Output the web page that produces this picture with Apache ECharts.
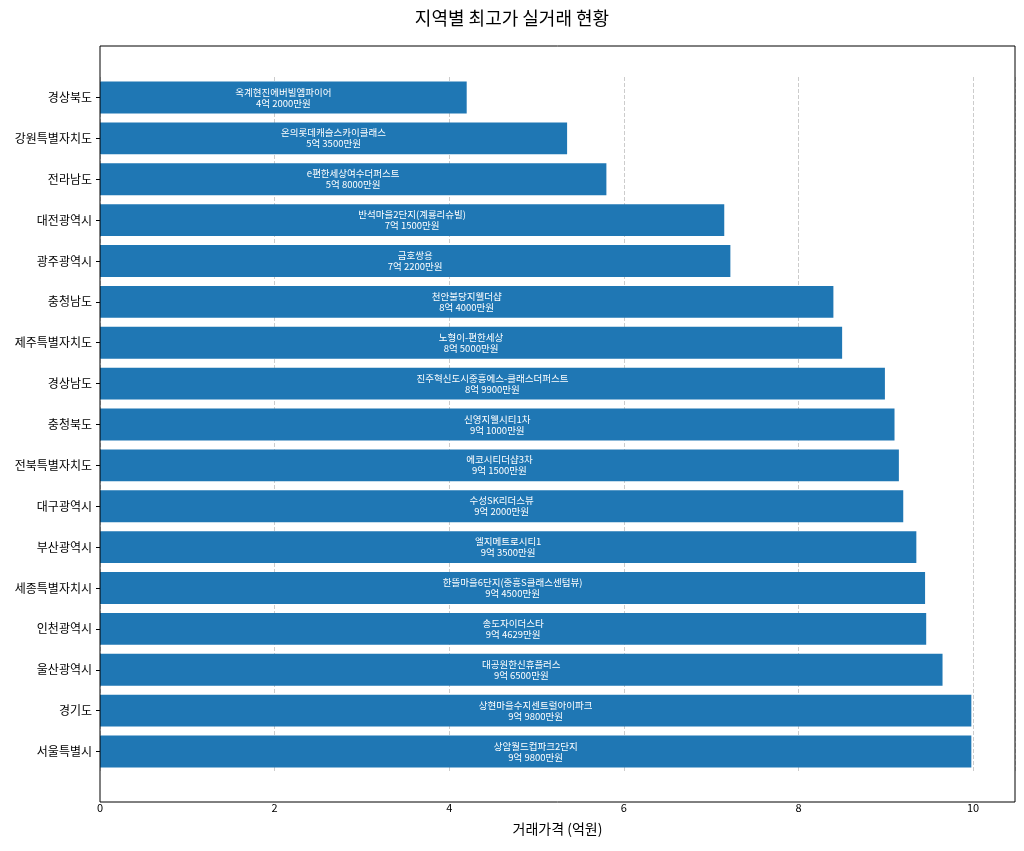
<!DOCTYPE html>
<html>
<head>
<meta charset="utf-8">
<script src="https://cdn.jsdelivr.net/npm/echarts@6/dist/echarts.min.js"></script>
<style>html,body{margin:0;padding:0;background:#fff}#myChart{width:1024px;height:851px}</style>
</head>
<body>
<div id="myChart"></div>
<script>
const regions = ["경상북도", "강원특별자치도", "전라남도", "대전광역시", "광주광역시", "충청남도", "제주특별자치도", "경상남도", "충청북도", "전북특별자치도", "대구광역시", "부산광역시", "세종특별자치시", "인천광역시", "울산광역시", "경기도", "서울특별시"];
const prices = [4.2, 5.35, 5.8, 7.15, 7.22, 8.4, 8.5, 8.99, 9.1, 9.15, 9.2, 9.35, 9.45, 9.4629, 9.65, 9.98, 9.98];
const aptNames = ["옥계현진에버빌엠파이어", "온의롯데캐슬스카이클래스", "e편한세상여수더퍼스트", "반석마을2단지(계룡리슈빌)", "금호쌍용", "천안불당지웰더샵", "노형이-편한세상", "진주혁신도시중흥에스-클래스더퍼스트", "신영지웰시티1차", "에코시티더샵3차", "수성SK리더스뷰", "엘지메트로시티1", "한뜰마을6단지(중흥S클래스센텀뷰)", "송도자이더스타", "대공원한신휴플러스", "상현마을수지센트럴아이파크", "상암월드컵파크2단지"];
const priceText = ["4억 2000만원", "5억 3500만원", "5억 8000만원", "7억 1500만원", "7억 2200만원", "8억 4000만원", "8억 5000만원", "8억 9900만원", "9억 1000만원", "9억 1500만원", "9억 2000만원", "9억 3500만원", "9억 4500만원", "9억 4629만원", "9억 6500만원", "9억 9800만원", "9억 9800만원"];
const xTicks = [0, 2, 4, 6, 8, 10];

let myChart = echarts.init(document.getElementById("myChart"));
const font = "'Noto Sans CJK KR', sans-serif";

let option = {
  textStyle: { fontFamily: font },
  title: {
    text: "지역별 최고가 실거래 현황",
    left: "center", top: 4,
    textStyle: { fontSize: 18, fontWeight: "normal", color: "#000", fontFamily: font },
  },
  graphic: [{
    type: "rect", shape: { x: 100, y: 46, width: 915, height: 756 }, silent: true, z: 10,
    style: { fill: "none", stroke: "#000", lineWidth: 1 },
  }],
  grid: { left: 100, right: 9, top: 77, bottom: 79 },
  xAxis: {
    type: "value", min: 0, max: 10.48, interval: 2,
    name: "거래가격 (억원)", nameLocation: "middle", nameGap: 50,
    nameTextStyle: { fontSize: 14, color: "#000" },
    axisLine: { show: false },
    axisTick: { show: false },
    axisLabel: { color: "#000", fontSize: 11, margin: 30,
      formatter: v => xTicks.includes(v) ? String(v) : "" },
    splitLine: { show: true, lineStyle: { type: "dashed", color: "#ccc" } },
  },
  yAxis: {
    type: "category", data: regions, inverse: true,
    axisLine: { show: false },
    axisTick: { show: true, alignWithLabel: true, length: 4, lineStyle: { color: "#000" } },
    axisLabel: { color: "#000", fontSize: 12 },
  },
  series: [{
    type: "bar", data: prices, barWidth: "78%",
    itemStyle: { color: "#1f77b4" },
    label: {
      show: true, position: "inside", color: "#fff", fontSize: 9.5, lineHeight: 11,
      formatter: p => aptNames[p.dataIndex] + "\n" + priceText[p.dataIndex],
    },
  }],
};
myChart.setOption(option);
</script>
</body>
</html>
